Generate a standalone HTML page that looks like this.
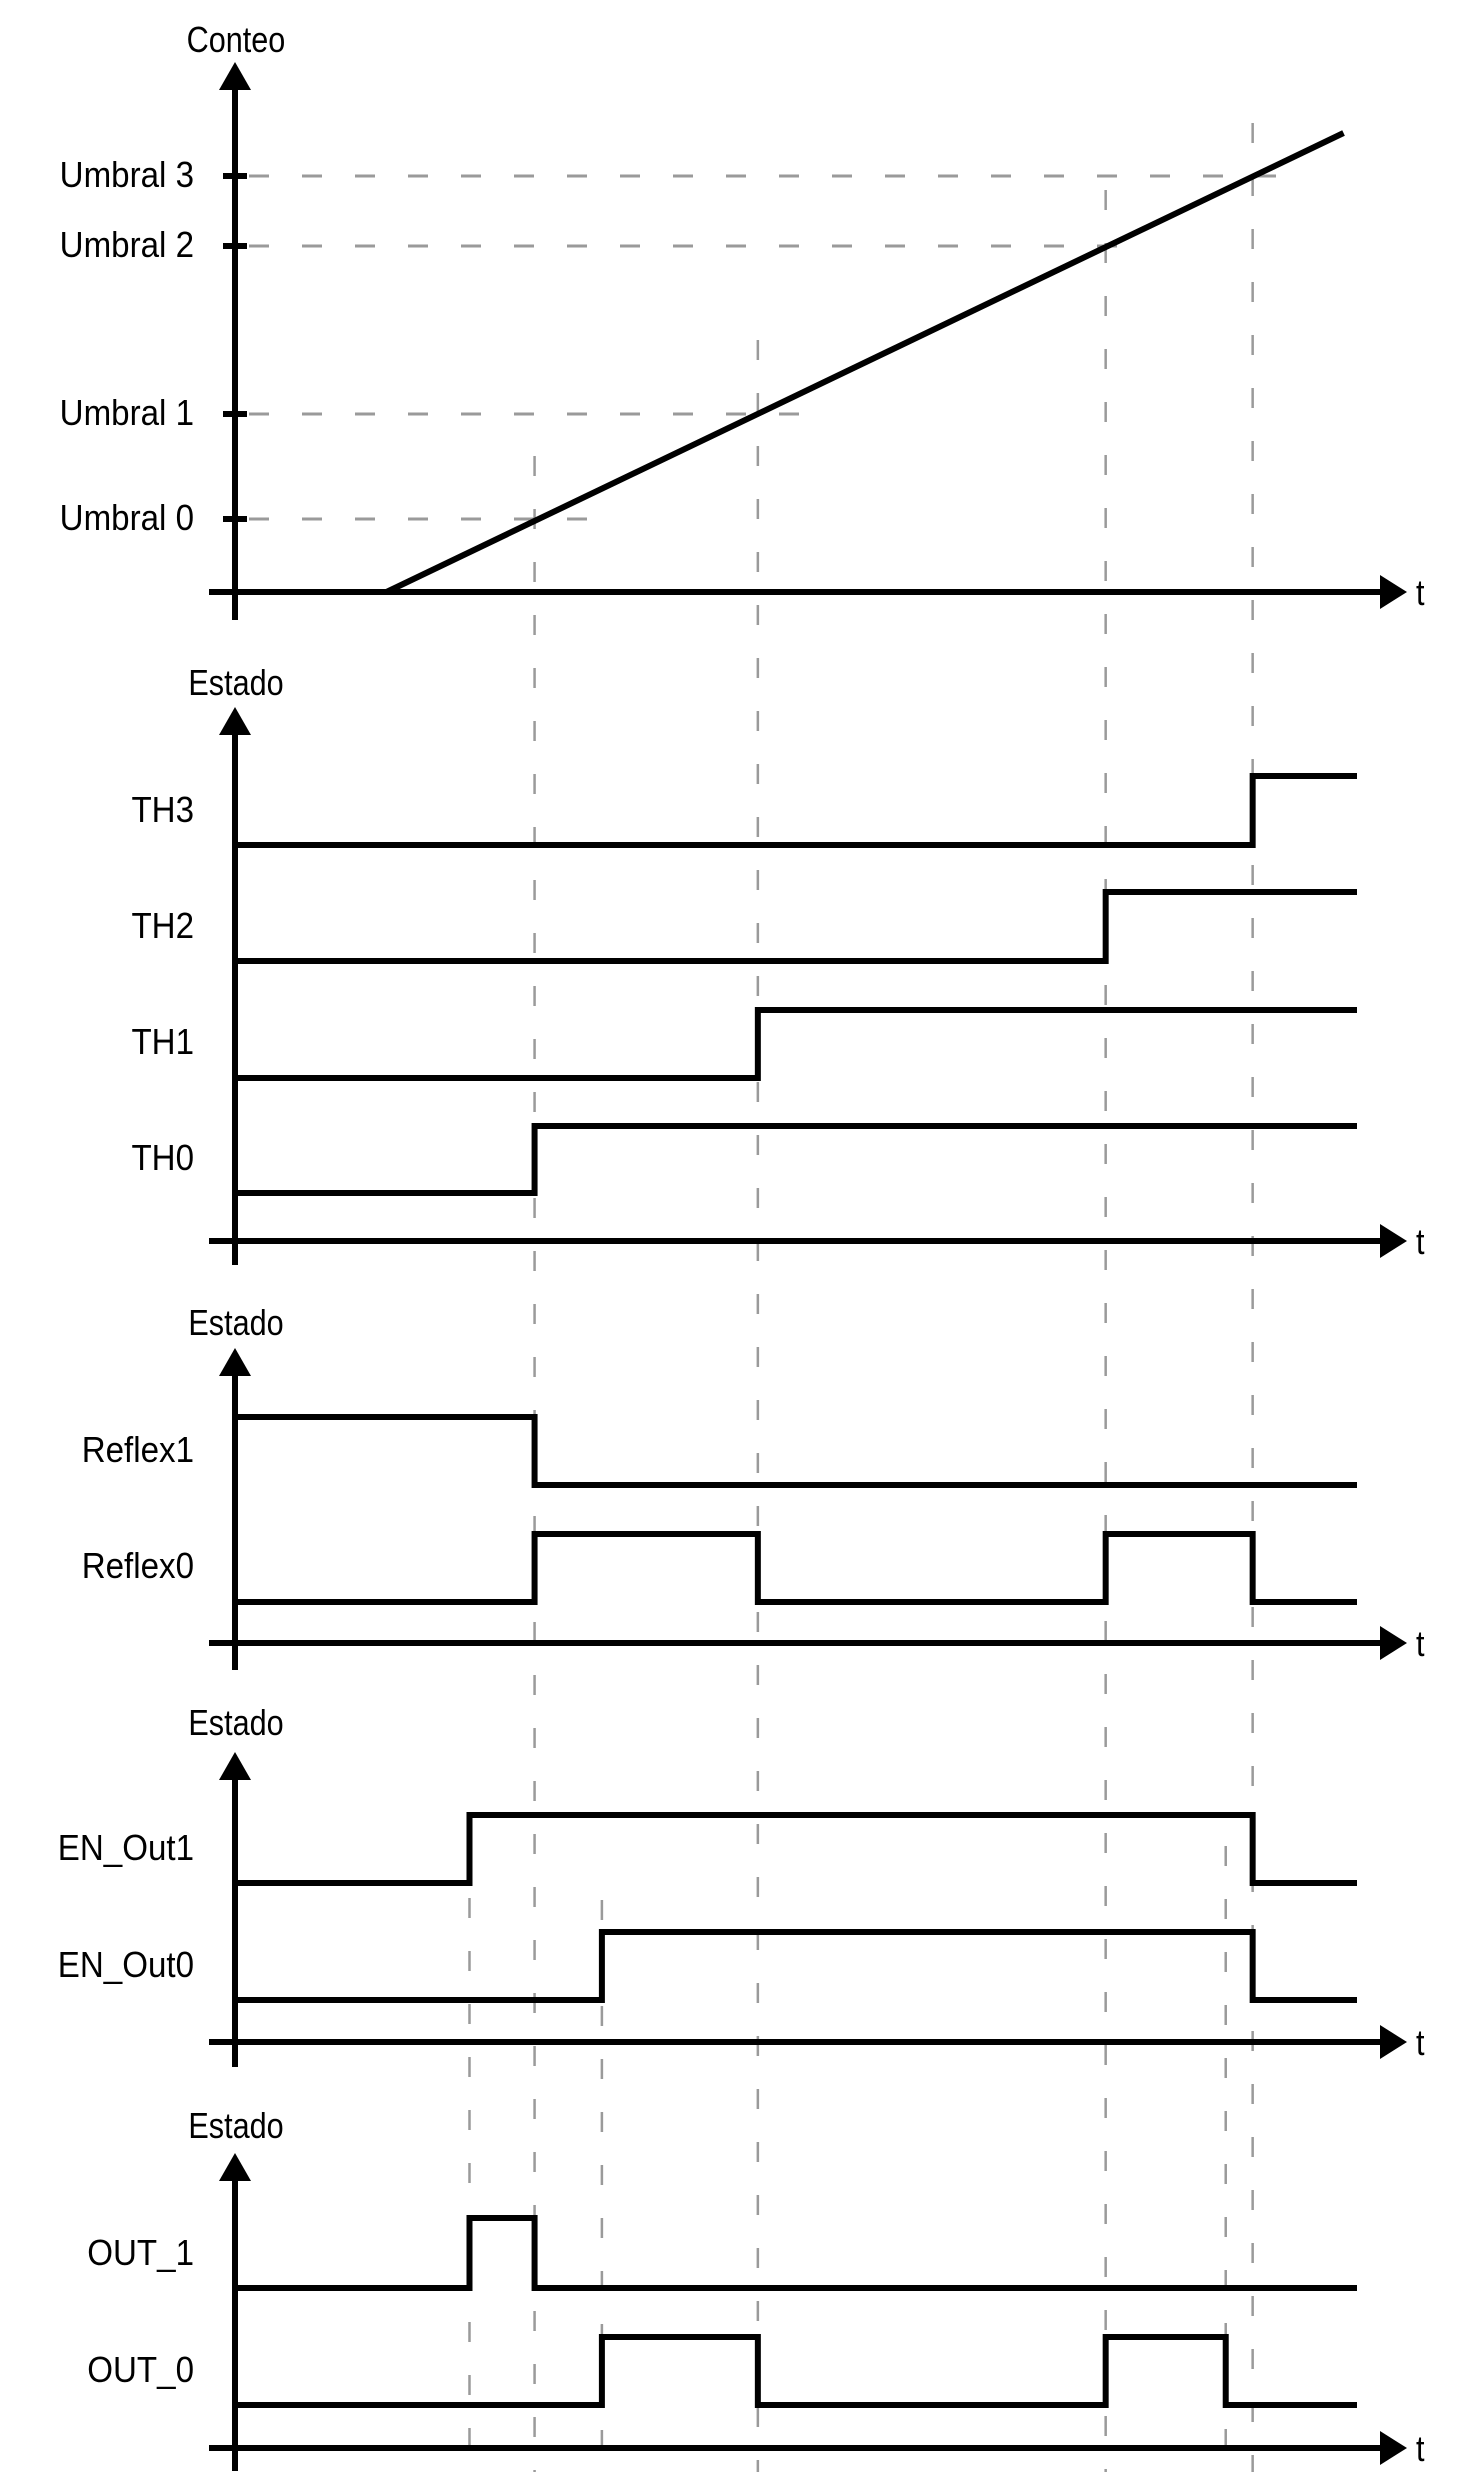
<!DOCTYPE html>
<html><head><meta charset="utf-8"><style>
html,body{margin:0;padding:0;background:#fff}
svg{display:block}
text{font-family:"Liberation Sans",sans-serif;font-size:36px;fill:#000}
</style></head><body>
<svg id="chart" width="1482" height="2484" viewBox="0 0 1482 2484" xmlns="http://www.w3.org/2000/svg">
<g id="grid"></g><g id="marks"></g>
</svg>
<script>
// ---- data ----
const eventTimes = [26.7, 46.6, 77.6, 90.7];          // threshold crossing times
const extraTimes = [20.9, 32.7, 88.3];                // EN/OUT edge times
const thresholdNames = ["Umbral 0","Umbral 1","Umbral 2","Umbral 3"];
const thresholdValues = [73, 178, 346, 416];
const rampStart = [13.5, 0];
const rampEnd = [98.8, 459];
const th3 = [[0,0],[90.7,1]];
const th2 = [[0,0],[77.6,1]];
const th1 = [[0,0],[46.6,1]];
const th0 = [[0,0],[26.7,1]];
const reflex1 = [[0,1],[26.7,0]];
const reflex0 = [[0,0],[26.7,1],[46.6,0],[77.6,1],[90.7,0]];
const enOut1 = [[0,0],[20.9,1],[90.7,0]];
const enOut0 = [[0,0],[32.7,1],[90.7,0]];
const out1 = [[0,0],[20.9,1],[26.7,0]];
const out0 = [[0,0],[32.7,1],[46.6,0],[77.6,1],[88.3,0]];

// ---- scales ----
const X0=235, X1=1357;
const xs = t => X0 + t*(X1-X0)/100;
const ysCount = v => 592 - v;

const NS="http://www.w3.org/2000/svg";
const grid=document.getElementById('grid'), marks=document.getElementById('marks');
function mk(tag, attrs, parent){const e=document.createElementNS(NS,tag);for(const k in attrs)e.setAttribute(k,attrs[k]);parent.appendChild(e);return e;}
const DASH="20 33", GRAY="#9a9a9a";

// vertical dashed guides
const vStarts=[456,340,190,123];
eventTimes.forEach((t,i)=>{
  const l=mk('line',{x1:xs(t),x2:xs(t),y1:vStarts[i],y2:2472,stroke:GRAY,'stroke-width':2.5,'stroke-dasharray':DASH},grid);
  
  
});
const eStarts=[1898,1900,1846];
extraTimes.forEach((t,i)=>{
  const l=mk('line',{x1:xs(t),x2:xs(t),y1:eStarts[i],y2:2472,stroke:GRAY,'stroke-width':2.5,'stroke-dasharray':DASH},grid);
  
  
});

// axes helper
function axes(yTop, yAxis, yBottom, title, titleY, name){
  const g=mk('g',{},marks);
  
  
  mk('line',{x1:235,x2:235,y1:yTop+25,y2:yBottom,stroke:'#000','stroke-width':6},g);
  mk('polygon',{points:`235,${yTop} 219,${yTop+28} 251,${yTop+28}`,fill:'#000'},g);
  mk('line',{x1:209,x2:1385,y1:yAxis,y2:yAxis,stroke:'#000','stroke-width':6},g);
  mk('polygon',{points:`1407,${yAxis} 1380,${yAxis-17} 1380,${yAxis+17}`,fill:'#000'},g);
  const tl=mk('text',{x:1416,y:yAxis+13,transform:`translate(1416 0) scale(0.85 1) translate(-1416 0)`},g);tl.textContent='t';
  
  
  const tt=mk('text',{x:236,y:titleY,'text-anchor':'middle',transform:`translate(236 0) scale(0.85 1) translate(-236 0)`},g);tt.textContent=title;
  
  
}
function label(txt,y,name){
  const t=mk('text',{x:194,y:y,'text-anchor':'end',transform:`translate(194 0) scale(0.92 1) translate(-194 0)`},marks);
  t.textContent=txt;
  
  
}
function signal(steps, lowY, highY, name){
  const yv=l=>l?highY:lowY;
  let d=`M${xs(0)},${yv(steps[0][1])}`;
  for(let i=1;i<steps.length;i++){d+=` H${xs(steps[i][0])} V${yv(steps[i][1])}`;}
  d+=` H${xs(100)}`;
  const p=mk('path',{d:d,fill:'none',stroke:'#000','stroke-width':6,'stroke-linejoin':'miter'},marks);
  
  
}

// ---- panel 1: count ramp ----
axes(62,592,620,'Conteo',52,'count-axes');
const hEnd=[589,807,1130,1296];
thresholdValues.forEach((v,i)=>{
  const y=ysCount(v);
  const l=mk('line',{x1:249,x2:hEnd[i],y1:y,y2:y,stroke:GRAY,'stroke-width':3,'stroke-dasharray':DASH},grid);
  
  
  const tk=mk('rect',{x:223,y:y-3,width:24,height:6,fill:'#000'},marks);
  
  
  label(thresholdNames[i],y+11,'threshold-label-'+i);
});
const ramp=mk('line',{x1:xs(rampStart[0]),y1:ysCount(rampStart[1]),x2:xs(rampEnd[0]),y2:ysCount(rampEnd[1]),stroke:'#000','stroke-width':6},marks);



// ---- panel 2: TH ----
axes(707,1241,1265,'Estado',695,'th-axes');
signal(th3,845,776,'th3-signal'); label('TH3',822,'th3-label');
signal(th2,961,892,'th2-signal'); label('TH2',938,'th2-label');
signal(th1,1078,1010,'th1-signal'); label('TH1',1054,'th1-label');
signal(th0,1193,1126,'th0-signal'); label('TH0',1170,'th0-label');

// ---- panel 3: Reflex ----
axes(1348,1643,1670,'Estado',1335,'reflex-axes');
signal(reflex1,1485,1417,'reflex1-signal'); label('Reflex1',1462,'reflex1-label');
signal(reflex0,1602,1534,'reflex0-signal'); label('Reflex0',1578,'reflex0-label');

// ---- panel 4: EN_Out ----
axes(1752,2042,2067,'Estado',1735,'en-axes');
signal(enOut1,1883,1815,'en-out1-signal'); label('EN_Out1',1860,'en-out1-label');
signal(enOut0,2000,1932,'en-out0-signal'); label('EN_Out0',1977,'en-out0-label');

// ---- panel 5: OUT ----
axes(2153,2448,2471,'Estado',2138,'out-axes');
signal(out1,2288,2218,'out1-signal'); label('OUT_1',2265,'out1-label');
signal(out0,2405,2337,'out0-signal'); label('OUT_0',2382,'out0-label');
</script>
</body></html>
